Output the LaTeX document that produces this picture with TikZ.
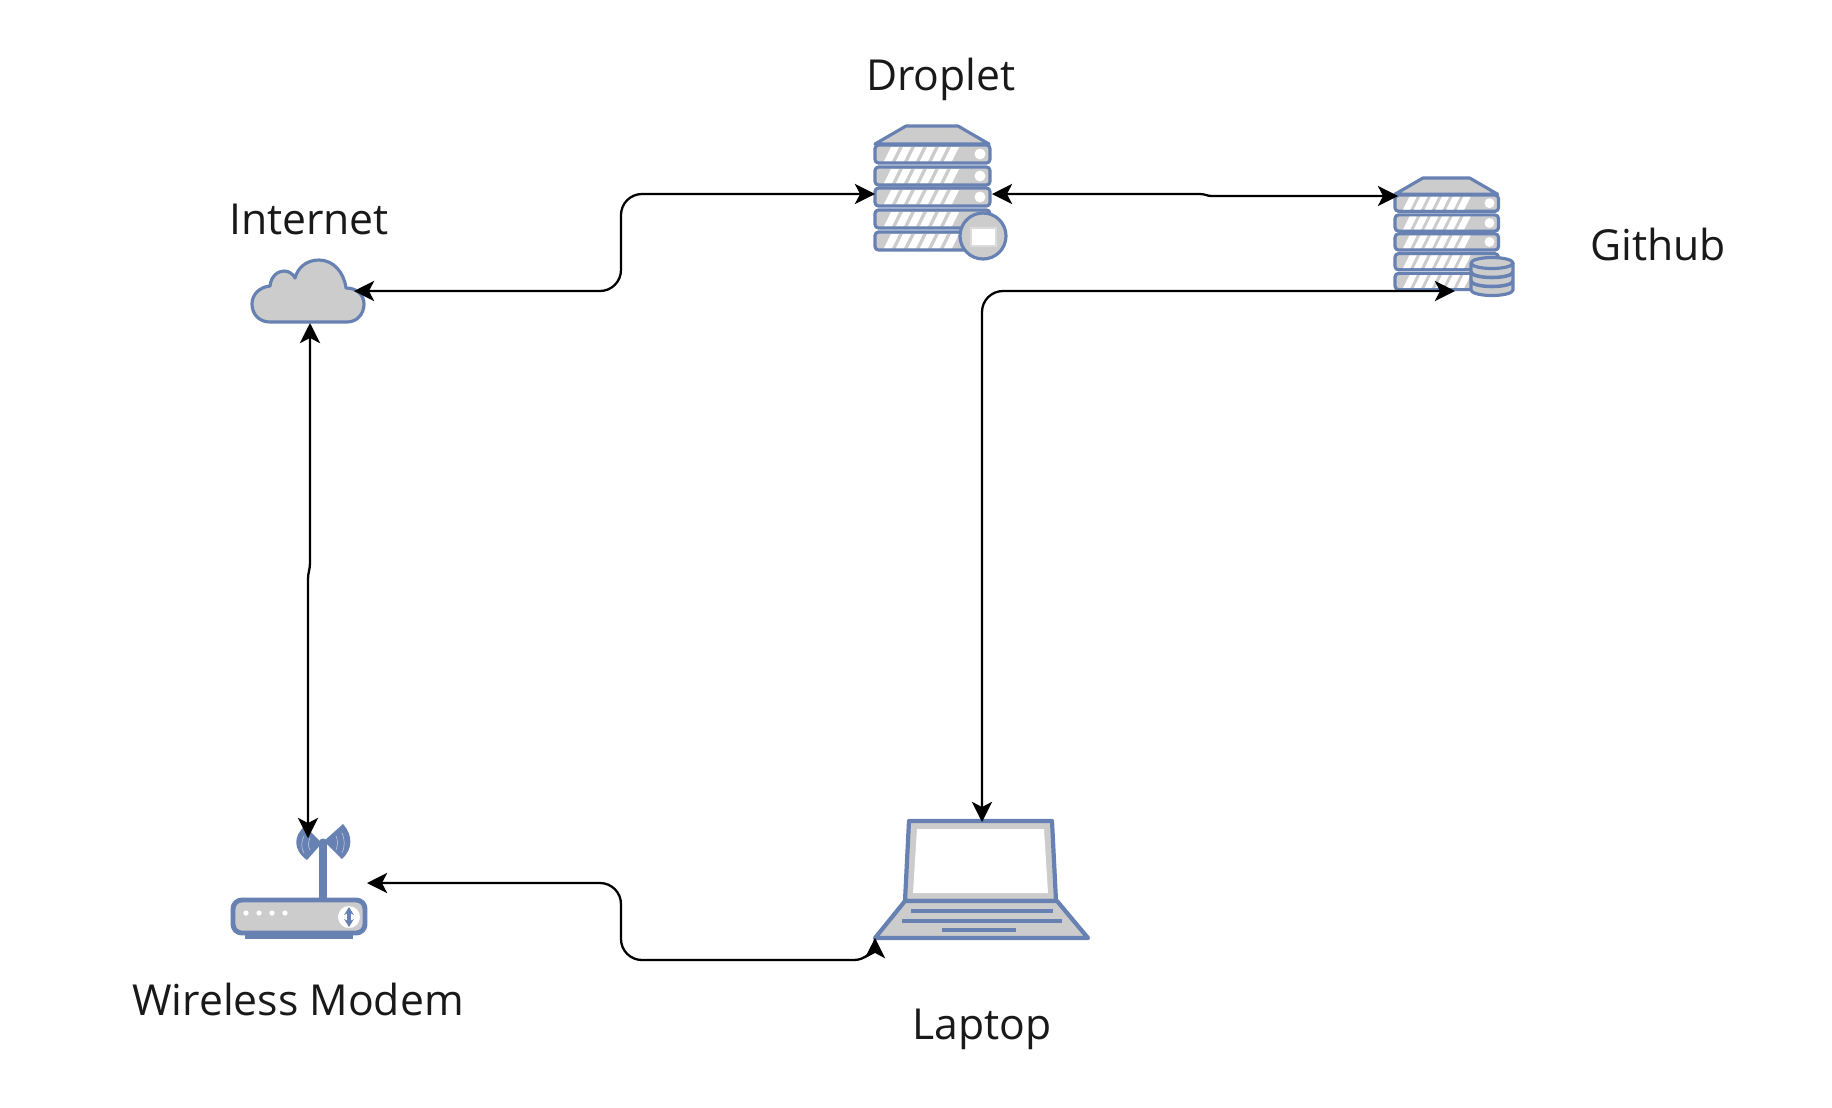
\documentclass[tikz,border=0pt]{standalone}
\usepackage{fontspec}
\setmainfont{Open Sans}
\usetikzlibrary{arrows.meta, positioning}
\definecolor{iconblue}{RGB}{104,129,179}
\definecolor{icongray}{RGB}{204,204,204}
\tikzset{
    icon/.style={draw=iconblue, fill=icongray, line width=1.8pt, line join=round},
    iconline/.style={draw=iconblue, line width=2.4pt},
    port/.style={inner sep=0pt, outer sep=0pt},
    caption/.style={font=\fontsize{24.3}{29}\selectfont, text=black!90},
    link/.style={black, line width=1.3pt, rounded corners=0.42cm,
        {Stealth[length=11.5pt,width=11.5pt,inset=3pt]}-{Stealth[length=11.5pt,width=11.5pt,inset=3pt]}},
    jog/.style={sharp corners}
}
% Rack of five bars, drawn at its own origin
\newcommand{\serverrack}{
    \draw[icon] (31,0) -- (83,0) -- (114,18) -- (0,18) -- cycle;
    \foreach \bary in {19,41,62,84,106} {
        \draw[icon, rounded corners=2pt] (0,\bary) rectangle (115,\bary+18);
        \foreach \k in {0,...,5}
            \fill[white] (9+12*\k,\bary+16) -- (17+12*\k,\bary+16) -- (24+12*\k,\bary+2) -- (16+12*\k,\bary+2) -- cycle;
    }
    \foreach \bary in {19,41,62}
        \fill[white] (105,\bary+9) circle (5.5);
}

\begin{document}
\begin{tikzpicture}[x=0.02cm, y=-0.02cm]
    \useasboundingbox (0,0) rectangle (1832,1107);

    % Internet cloud
    \draw[icon] (270,322) .. controls (259,322) and (252,314) .. (252,304)
        .. controls (252,294) and (260,287) .. (270,286)
        .. controls (271,276) and (278,271) .. (284,271)
        .. controls (289,271) and (293,274) .. (295,278)
        .. controls (298,267) and (307,260) .. (319,260)
        .. controls (333,260) and (344,272) .. (346,288)
        .. controls (357,288) and (364,295) .. (364,304)
        .. controls (364,314) and (357,322) .. (347,322) -- cycle;
    \node[port, minimum width=1.76cm, minimum height=1.28cm] (internet) at (310,291) {};
    \node[caption] (internetlabel) at (309,219) {Internet};

    % Droplet server
    \begin{scope}[shift={(875,126)}]
        \serverrack
    \end{scope}
    \draw[icon] (983,236) circle (23);
    \draw[draw=black!14, fill=white, line width=1.2pt] (971,228) rectangle (996,246);
    \node[port, minimum width=2.34cm, minimum height=2.72cm] (droplet) at (933.5,194) {};
    \node[caption] (dropletlabel) at (941,79) {Droplet};

    % Github server with its database
    \begin{scope}[shift={(1395,178)}, scale=0.9]
        \serverrack
    \end{scope}
    \draw[icon] (1471,263) -- (1471,290) arc[start angle=180, end angle=0, x radius=21, y radius=5.5] -- (1513,263) -- cycle;
    \draw[icon] (1492,263) ellipse (21 and 5.5);
    \draw[iconline, line width=2pt] (1471,272) arc[start angle=180, end angle=0, x radius=21, y radius=5.5];
    \draw[iconline, line width=2pt] (1471,281) arc[start angle=180, end angle=0, x radius=21, y radius=5.5];
    \node[port, minimum width=2.08cm, minimum height=0.72cm] (github) at (1450,196) {};
    \coordinate (githubdb) at (1455,291);
    \node[caption] (githublabel) at (1658,244) {Github};

    % Wireless modem
    \fill[iconblue] (305,826) .. controls (293,836) and (293,850) .. (307,860) -- (322,843) -- cycle;
    \fill[iconblue] (343,824) .. controls (353,835) and (353,849) .. (342,859) -- (324,841) -- cycle;
    \draw[iconblue!45, line width=0.35pt] (304,836) .. controls (301,842) and (301,848) .. (304,853);
    \draw[iconblue!45, line width=0.35pt] (310,838) .. controls (308,842) and (308,847) .. (310,850);
    \draw[iconblue!45, line width=0.35pt] (342,833) .. controls (345,840) and (345,846) .. (342,853);
    \draw[iconblue!45, line width=0.35pt] (336,836) .. controls (338,840) and (338,845) .. (336,850);
    \draw[iconblue, line width=4pt, line cap=round] (323,842) -- (323,899);
    \draw[icon, line width=2.8pt, rounded corners=5pt] (233,900) rectangle (365,933);
    \fill[iconblue] (245,935) rectangle (353,939);
    \foreach \dotx in {246,259,272,285}
        \fill[white] (\dotx,913) circle (2.6);
    \fill[white] (349,917) circle (11);
    \draw[iconblue, line width=2pt, {Stealth[length=4.5pt,width=5.5pt]}-{Stealth[length=4.5pt,width=5.5pt]}] (349,907) -- (349,927);
    \node[port, minimum width=2.36cm, minimum height=1.8cm] (modem) at (308,883) {};
    \node[caption] (modemlabel) at (298,999) {Wireless Modem};

    % Laptop
    \draw[icon, line width=2.4pt] (909,821) -- (1052,821) -- (1056,901) -- (905,901) -- cycle;
    \fill[white] (917,829) -- (1044,829) -- (1048,893) -- (913,893) -- cycle;
    \draw[icon, line width=2.4pt] (905,901) -- (1057,901) -- (1088,938) -- (875,938) -- cycle;
    \draw[iconline] (911,911) -- (1053,911);
    \draw[iconline] (902,921) -- (1062,921);
    \draw[iconline] (942,930) -- (1016,930);
    \node[port, minimum width=1.2cm, minimum height=0.2cm] (laptop) at (982,827) {};
    \coordinate (laptopcorner) at (875,938);
    \node[caption] (laptoplabel) at (982,1029) {Laptop};

    % Connectors
    \draw[link] (internet.east) -- ++(267,0) |- (droplet.west);
    \draw[link, jog] (droplet.east) -- ++(208,0) .. controls +(5,0) and +(-5,0) .. ++(12,2) -- (github.west);
    \draw[link] (githubdb) -| (laptop.north);
    \draw[link, jog] (internet.south) -- ++(0,240) .. controls +(0,6) and +(0,-6) .. ++(-2,16) -- (modem.north);
    \draw[link] (modem.east) -- ++(254,0) -- ++(0,77) -| (laptopcorner);
\end{tikzpicture}
\end{document}
